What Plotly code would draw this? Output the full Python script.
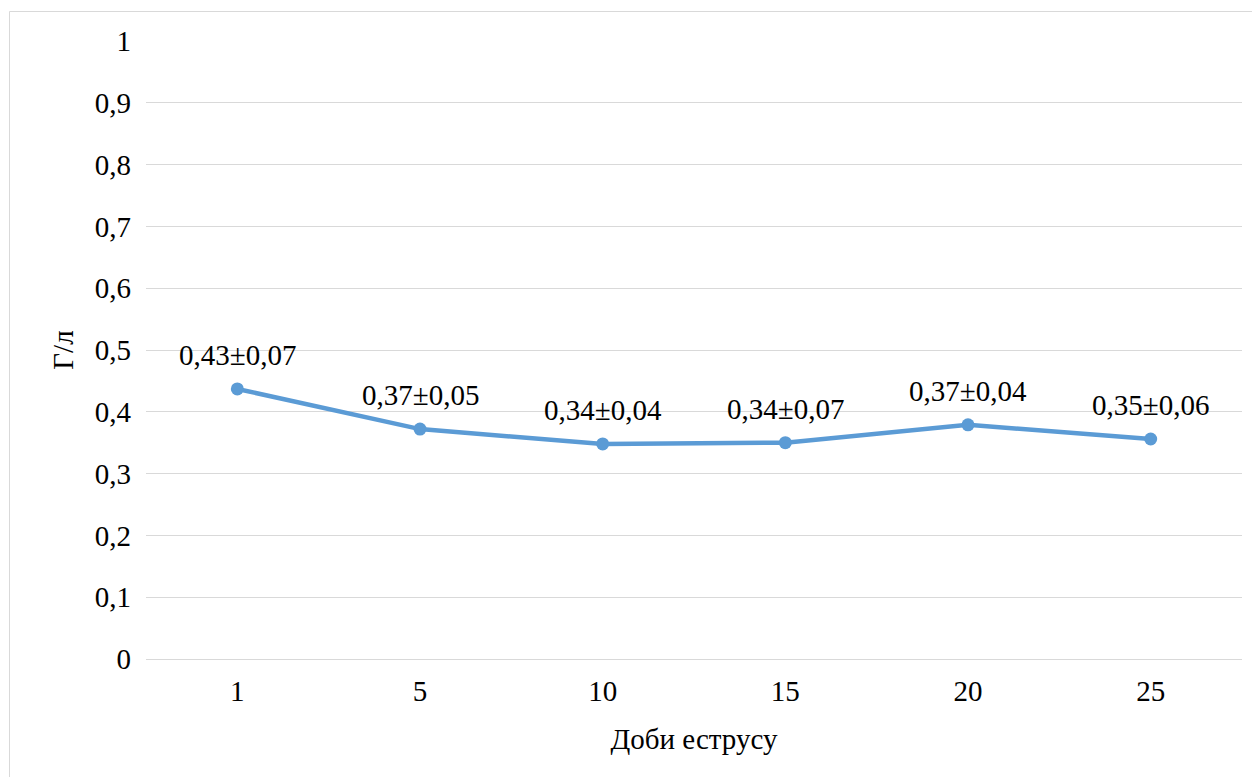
import plotly.graph_objects as go

categories = ["1", "5", "10", "15", "20", "25"]
values = [0.437, 0.372, 0.348, 0.350, 0.379, 0.356]
labels = ["0,43±0,07", "0,37±0,05", "0,34±0,04", "0,34±0,07", "0,37±0,04", "0,35±0,06"]
y_ticks = [0, 0.1, 0.2, 0.3, 0.4, 0.5, 0.6, 0.7, 0.8, 0.9, 1]
y_tick_text = ["0", "0,1", "0,2", "0,3", "0,4", "0,5", "0,6", "0,7", "0,8", "0,9", "1"]

# page body has an 8px margin, so the figure is drawn 8px in from the corner
OFF = 8
W, H = 1260 - OFF, 777 - OFF
L, R, T, B = 146 - OFF, 18, 41 - OFF, 118
pw, ph = W - L - R, H - T - B

font = "Liberation Serif, Times New Roman, serif"
color = "#5B9BD5"
FS = 29

fig = go.Figure()
fig.add_trace(go.Scatter(
    x=categories, y=values, mode="lines+markers",
    line=dict(color=color, width=4.5),
    marker=dict(color=color, size=13),
    hoverinfo="skip", showlegend=False,
))

for i, (v, t) in enumerate(zip(values, labels)):
    fig.add_annotation(x=i, y=v, text=t, showarrow=False, yshift=34,
                       font=dict(family=font, size=FS, color="#000000"))

def px_to_paper_x(px):
    return (px - OFF - L) / pw

def px_to_paper_y(py):
    return (H - B - (py - OFF)) / ph

fig.add_shape(type="rect", xref="paper", yref="paper",
              x0=px_to_paper_x(9.5), x1=px_to_paper_x(1275),
              y0=px_to_paper_y(800), y1=px_to_paper_y(11.5),
              line=dict(color="#d9d9d9", width=1), fillcolor="rgba(0,0,0,0)", layer="below")

fig.update_layout(
    width=W, height=H,
    margin=dict(l=L, r=R, t=T, b=B),
    paper_bgcolor="white", plot_bgcolor="white",
    font=dict(family=font, size=FS, color="#000000"),
    xaxis=dict(type="category", range=[-0.5, 5.5], showgrid=False, showline=False,
               zeroline=False, ticks="", ticklen=0, tickfont=dict(family=font, size=FS),
               ticklabelstandoff=12,
               title=dict(text="Доби еструсу", font=dict(family=font, size=FS), standoff=22)),
    yaxis=dict(range=[0, 1], tickvals=y_ticks, ticktext=y_tick_text,
               showgrid=True, gridcolor="#d9d9d9", gridwidth=1.3,
               zeroline=True, zerolinecolor="#d9d9d9", zerolinewidth=1.3,
               showline=False, ticks="", tickfont=dict(family=font, size=FS),
               ticklabelstandoff=14,
               title=dict(text="Г/л", font=dict(family=font, size=FS), standoff=12)),
)

fig.write_html("out.html")
